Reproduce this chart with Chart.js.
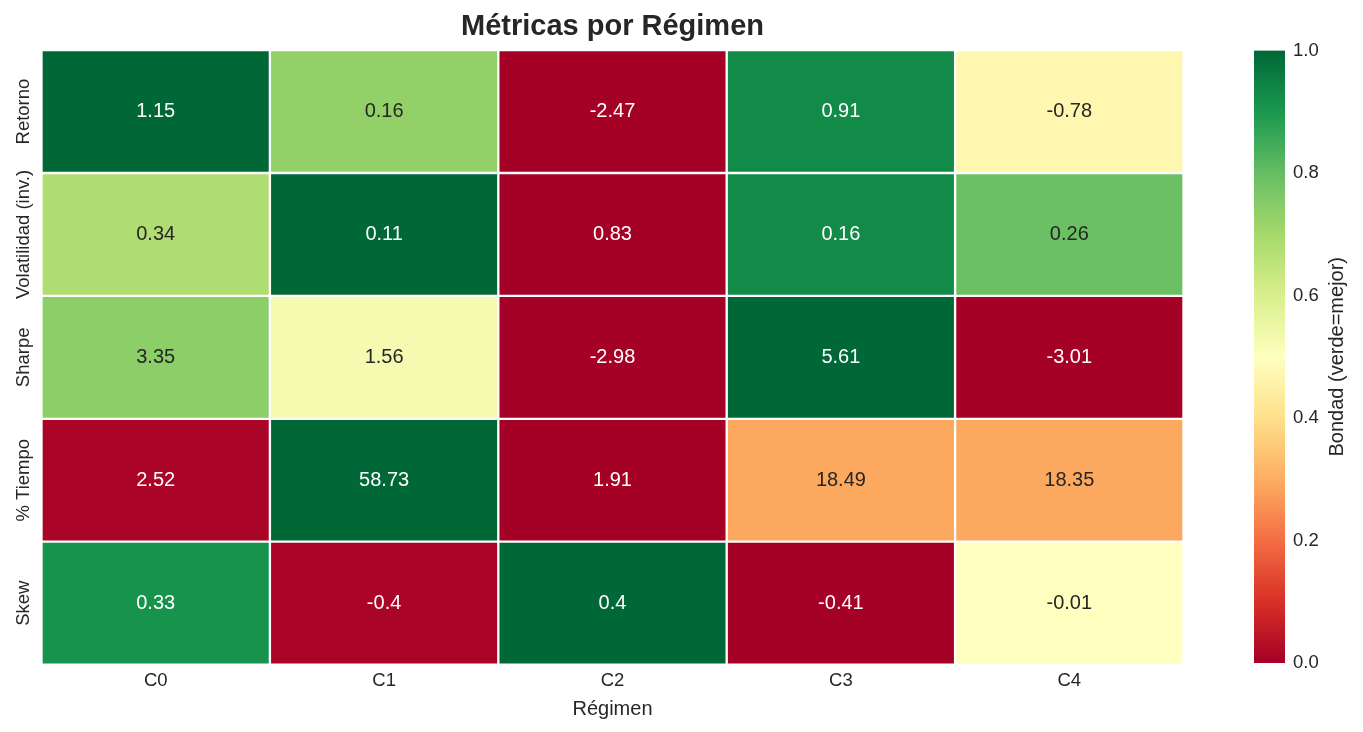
<!DOCTYPE html>
<html>
<head>
<meta charset="utf-8">
<script src="https://cdn.jsdelivr.net/npm/chart.js@4/dist/chart.umd.min.js"></script>
<style>
html, body { margin: 0; padding: 0; background: #fff; }
#wrap { position: relative; width: 1363px; height: 732px; }
#heat { position: absolute; left: 0; top: 0; }
#barra { position: absolute; left: 1254px; top: 0; }
</style>
</head>
<body>
<div id="wrap">
  <canvas id="heat" width="1363" height="732"></canvas>
  <canvas id="barra" width="109" height="732"></canvas>
</div>
<script>
// datos del heatmap (valores mostrados en cada celda)
const regimenes = ['C0', 'C1', 'C2', 'C3', 'C4']
const metricas = ['Retorno', 'Volatilidad (inv.)', 'Sharpe', '% Tiempo', 'Skew']

const retorno = [1.15, 0.16, -2.47, 0.91, -0.78]
const volatilidad = [0.34, 0.11, 0.83, 0.16, 0.26]
const sharpe = [3.35, 1.56, -2.98, 5.61, -3.01]
const tiempo = [2.52, 58.73, 1.91, 18.49, 18.35]
const skew = [0.33, -0.4, 0.4, -0.41, -0.01]

const bondadRetorno = [1.0, 0.73, 0.0, 0.93, 0.47]
const bondadVolatilidad = [0.68, 1.0, 0.0, 0.93, 0.79]
const bondadSharpe = [0.74, 0.53, 0.0, 1.0, 0.0]
const bondadTiempo = [0.01, 1.0, 0.0, 0.29, 0.29]
const bondadSkew = [0.91, 0.01, 1.0, 0.0, 0.5]

const ticksBarra = [0, 0.2, 0.4, 0.6, 0.8, 1.0]

const valores = [retorno, volatilidad, sharpe, tiempo, skew]
const bondad = [bondadRetorno, bondadVolatilidad, bondadSharpe, bondadTiempo, bondadSkew]

const fuente = "'Liberation Sans', Arial, sans-serif"
const gris = '#262626'
const tam = 18.5      // ticks
const tamEtiqueta = 20 // titulos de ejes y anotaciones

// colormap RdYlGn
const rdylgn = ['#a50026', '#d73027', '#f46d43', '#fdae61', '#fee08b', '#ffffbf',
                '#d9ef8b', '#a6d96a', '#66bd63', '#1a9850', '#006837']

const hexRgb = h => [1, 3, 5].map(i => parseInt(h.substr(i, 2), 16))

function colorBondad(t) {
    const p = Math.max(0, Math.min(1, t)) * 10
    const i = Math.min(9, Math.floor(p))
    const f = p - i
    const a = hexRgb(rdylgn[i]), b = hexRgb(rdylgn[i + 1])
    const c = a.map((v, k) => Math.round(v + (b[k] - v) * f))
    return 'rgb(' + c.join(',') + ')'
}

function colorTexto(t) {
    const c = colorBondad(t).match(/\d+/g).map(Number).map(v => {
        v = v / 255
        return v <= 0.03928 ? v / 12.92 : Math.pow((v + 0.055) / 1.055, 2.4)
    })
    const lum = 0.2126 * c[0] + 0.7152 * c[1] + 0.0722 * c[2]
    return lum < 0.408 ? '#ffffff' : gris
}

// una serie apilada por fila (de abajo hacia arriba)
const datasets = metricas.map((m, r) => ({
    label: m,
    data: regimenes.map(() => 1),
    fila: r,
    backgroundColor: bondad[r].map(colorBondad),
    borderColor: '#ffffff',
    borderWidth: 1.5,
    borderSkipped: false
})).reverse()

// textos dentro de las celdas
const anotaciones = {
    id: 'anotaciones',
    afterDatasetsDraw(chart) {
        const ctx = chart.ctx
        ctx.save()
        ctx.font = tamEtiqueta + 'px ' + fuente
        ctx.textAlign = 'center'
        ctx.textBaseline = 'middle'
        chart.data.datasets.forEach((ds, i) => {
            const meta = chart.getDatasetMeta(i)
            meta.data.forEach((bar, c) => {
                const p = bar.getProps(['x', 'y', 'base'], true)
                ctx.fillStyle = colorTexto(bondad[ds.fila][c])
                ctx.fillText(String(valores[ds.fila][c]), p.x, (p.y + p.base) / 2)
            })
        })
        ctx.restore()
    }
}

// etiquetas verticales de las filas
const etiquetasFilas = {
    id: 'etiquetasFilas',
    afterDraw(chart) {
        const ctx = chart.ctx
        const y = chart.scales.y
        ctx.save()
        ctx.font = tam + 'px ' + fuente
        ctx.fillStyle = gris
        ctx.textAlign = 'center'
        ctx.textBaseline = 'middle'
        metricas.forEach((m, r) => {
            ctx.save()
            ctx.translate(24, y.getPixelForValue(metricas.length - r - 0.5))
            ctx.rotate(-Math.PI / 2)
            ctx.fillText(m, 0, 0)
            ctx.restore()
        })
        ctx.restore()
    }
}

new Chart(document.getElementById('heat'), {
    type: 'bar',
    data: { labels: regimenes, datasets: datasets },
    options: {
        responsive: false,
        animation: false,
        barPercentage: 1,
        categoryPercentage: 1,
        layout: { padding: { left: 41.5, right: 179.5, top: 0, bottom: 12 } },
        plugins: {
            legend: { display: false },
            tooltip: { enabled: false },
            title: {
                display: true,
                text: 'Métricas por Régimen',
                color: gris,
                font: { family: fuente, size: 29, weight: 'bold' },
                padding: { top: 10, bottom: 5.3 }
            }
        },
        scales: {
            x: {
                stacked: true,
                grid: { display: false, drawTicks: false },
                border: { display: false },
                ticks: { color: gris, font: { family: fuente, size: tam }, padding: 5.6 },
                title: {
                    display: true,
                    text: 'Régimen',
                    color: gris,
                    font: { family: fuente, size: tamEtiqueta, lineHeight: 1.1 },
                    padding: { top: 0, bottom: 0 }
                }
            },
            y: {
                stacked: true,
                display: false,
                min: 0,
                max: metricas.length
            }
        }
    },
    plugins: [anotaciones, etiquetasFilas]
})

// barra de color
const tituloBarra = {
    id: 'tituloBarra',
    afterDraw(chart) {
        const ctx = chart.ctx
        const a = chart.chartArea
        ctx.save()
        ctx.font = tamEtiqueta + 'px ' + fuente
        ctx.fillStyle = gris
        ctx.textAlign = 'center'
        ctx.textBaseline = 'middle'
        ctx.translate(83, (a.top + a.bottom) / 2)
        ctx.rotate(-Math.PI / 2)
        ctx.fillText('Bondad (verde=mejor)', 0, 0)
        ctx.restore()
    }
}

new Chart(document.getElementById('barra'), {
    type: 'bar',
    data: {
        labels: ['bondad'],
        datasets: [{
            data: [1],
            barPercentage: 1,
            categoryPercentage: 1,
            backgroundColor: (c) => {
                const a = c.chart.chartArea
                if (!a) return null
                const g = c.chart.ctx.createLinearGradient(0, a.bottom, 0, a.top)
                rdylgn.forEach((col, i) => g.addColorStop(i / 10, col))
                return g
            }
        }]
    },
    options: {
        responsive: false,
        animation: false,
        layout: { padding: { left: 0, right: 0, top: 50.5, bottom: 69 } },
        plugins: { legend: { display: false }, tooltip: { enabled: false } },
        scales: {
            x: { display: false },
            y: {
                position: 'right',
                min: 0,
                max: 1,
                afterBuildTicks: s => { s.ticks = ticksBarra.map(v => ({ value: v })) },
                afterFit: s => { s.width = 78 },
                grid: { display: false, drawTicks: false },
                border: { display: false },
                ticks: {
                    color: gris,
                    font: { family: fuente, size: tam },
                    padding: 8,
                    callback: v => v.toFixed(1)
                }
            }
        }
    },
    plugins: [tituloBarra]
})
</script>
</body>
</html>
